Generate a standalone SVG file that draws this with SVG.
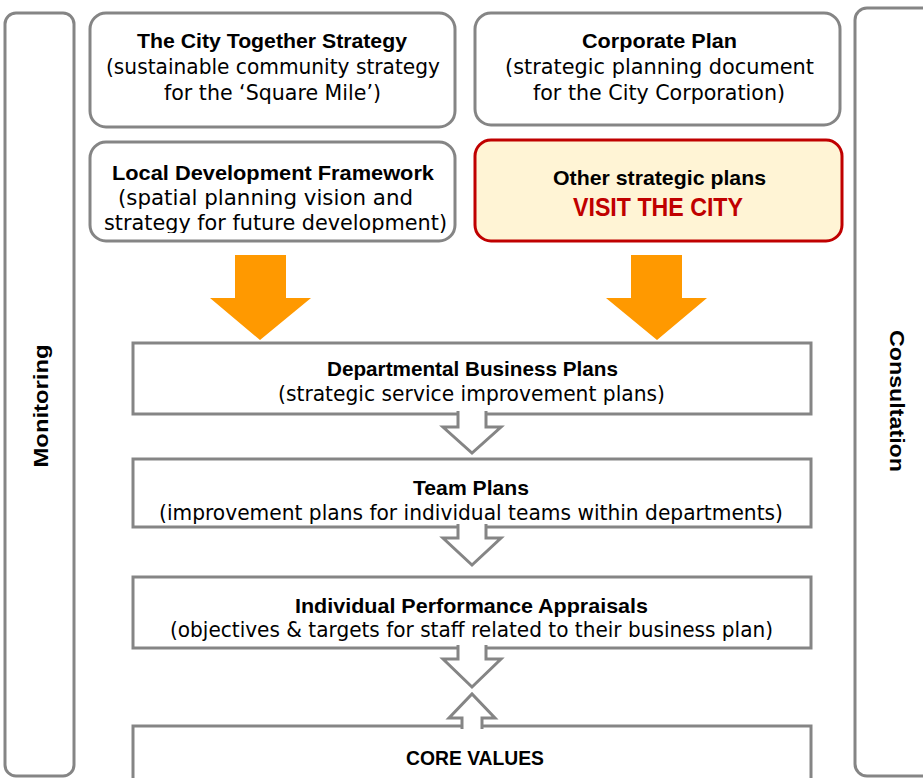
<svg xmlns="http://www.w3.org/2000/svg" width="923" height="778" viewBox="0 0 923 778">
<style>
.box{fill:#ffffff;stroke:#858585;stroke-width:3}
.side{fill:none;stroke:#858585;stroke-width:3}
.hl{fill:#FFF4D5;stroke:#C00000;stroke-width:3}
.b{font-family:"Liberation Sans",Arial,sans-serif;font-weight:bold;font-size:21px;fill:#000}
.r{font-family:"DejaVu Sans","Liberation Sans",sans-serif;font-size:21px;fill:#000}
.red{font-family:"Liberation Sans",Arial,sans-serif;font-weight:bold;font-size:25px;fill:#C00000}
.orange{fill:#FF9900}
.hollow{fill:#ffffff;stroke:#858585;stroke-width:3;stroke-linejoin:miter}
</style>
<defs>
<clipPath id="ldfclip"><rect x="90" y="140" width="366" height="93"/></clipPath>
</defs>
<rect width="923" height="778" fill="#ffffff"/>

<g id="monitoring">
<rect class="side" x="5" y="13" width="69" height="763" rx="11"/>
<text class="b" font-size="22" transform="translate(48,406) rotate(-90)" text-anchor="middle" textLength="123" lengthAdjust="spacingAndGlyphs">Monitoring</text>
</g>

<g id="consultation">
<rect class="side" x="855" y="8" width="100" height="768" rx="12"/>
<text class="b" font-size="22" transform="translate(890,401) rotate(90)" text-anchor="middle" textLength="142" lengthAdjust="spacingAndGlyphs">Consultation</text>
</g>

<g id="city-together">
<rect class="box" x="90" y="13" width="365" height="114" rx="16"/>
<text class="b" x="137" y="48" textLength="270" lengthAdjust="spacingAndGlyphs">The City Together Strategy</text>
<text class="r" x="106" y="74" textLength="334" lengthAdjust="spacingAndGlyphs">(sustainable community strategy</text>
<text class="r" x="164" y="100" textLength="217" lengthAdjust="spacingAndGlyphs">for the ‘Square Mile’)</text>
</g>

<g id="corporate-plan">
<rect class="box" x="475" y="13" width="365" height="112" rx="16"/>
<text class="b" x="582" y="48" textLength="155" lengthAdjust="spacingAndGlyphs">Corporate Plan</text>
<text class="r" x="505" y="74" textLength="309" lengthAdjust="spacingAndGlyphs">(strategic planning document</text>
<text class="r" x="533" y="100" textLength="252" lengthAdjust="spacingAndGlyphs">for the City Corporation)</text>
</g>

<g id="ldf">
<rect class="box" x="90" y="142" width="365" height="99" rx="16"/>
<text class="b" x="112" y="180" textLength="322" lengthAdjust="spacingAndGlyphs">Local Development Framework</text>
<text class="r" x="118" y="205" textLength="295" lengthAdjust="spacingAndGlyphs">(spatial planning vision and</text>
<text class="r" x="104" y="230" textLength="343" lengthAdjust="spacingAndGlyphs" clip-path="url(#ldfclip)">strategy for future development)</text>
</g>

<g id="other-plans">
<rect class="hl" x="475" y="140" width="367" height="101" rx="16"/>
<text class="b" font-size="20" x="553" y="185" textLength="213" lengthAdjust="spacingAndGlyphs">Other strategic plans</text>
<text class="red" x="573" y="216" textLength="170" lengthAdjust="spacingAndGlyphs">VISIT THE CITY</text>
</g>

<g id="departmental">
<rect class="box" x="133" y="343" width="678" height="71"/>
<text class="b" x="327" y="376" textLength="291" lengthAdjust="spacingAndGlyphs">Departmental Business Plans</text>
<text class="r" x="278" y="401" textLength="387" lengthAdjust="spacingAndGlyphs">(strategic service improvement plans)</text>
</g>

<g id="team-plans">
<rect class="box" x="133" y="459" width="678" height="68"/>
<text class="b" x="413" y="495" textLength="116" lengthAdjust="spacingAndGlyphs">Team Plans</text>
<text class="r" x="159" y="520" textLength="624" lengthAdjust="spacingAndGlyphs">(improvement plans for individual teams within departments)</text>
</g>

<g id="appraisals">
<rect class="box" x="133" y="577" width="678" height="71"/>
<text class="b" x="295" y="613" textLength="353" lengthAdjust="spacingAndGlyphs">Individual Performance Appraisals</text>
<text class="r" x="170" y="637" textLength="603" lengthAdjust="spacingAndGlyphs">(objectives &amp; targets for staff related to their business plan)</text>
</g>

<g id="core-values">
<rect class="box" x="133" y="726" width="678" height="70"/>
<text class="b" x="406" y="765" textLength="138" lengthAdjust="spacingAndGlyphs">CORE VALUES</text>
</g>

<g id="connectors">
<polygon class="orange" points="235,255 286,255 286,298 311,298 260,340 210,298 235,298"/>
<polygon class="orange" points="631,255 682,255 682,298 707,298 657,340 606,298 631,298"/>
<path class="hollow" d="M458,411 V427 H443 L472,453 L501,427 H486 V411"/>
<path class="hollow" d="M458,524 V538 H443 L472,565 L501,538 H486 V524"/>
<path class="hollow" d="M458,645 V659 H443 L472,687 L501,659 H486 V645"/>
<path class="hollow" d="M462,729 V718 H449 L472,694 L495,718 H482 V729"/>
</g>
</svg>
